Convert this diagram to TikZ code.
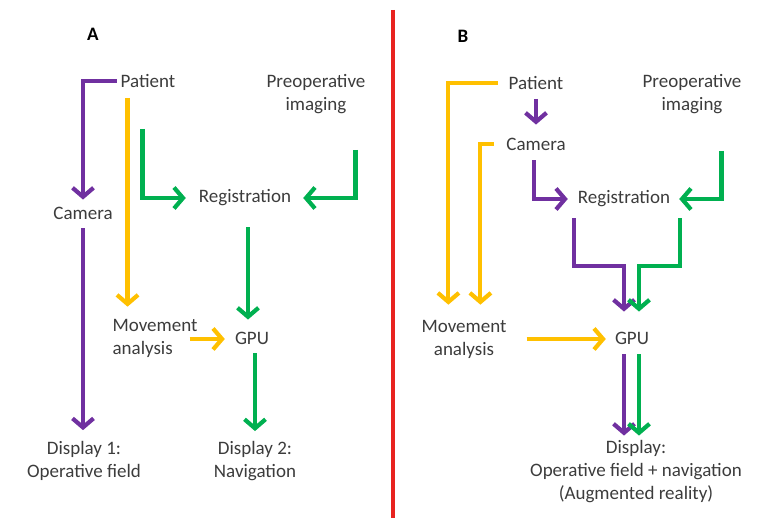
\documentclass[tikz,border=0pt]{standalone}
\usepackage{fontspec}
\setmainfont{Carlito}
\usetikzlibrary{arrows.meta}
\definecolor{cPurple}{HTML}{7030A0}
\definecolor{cYellow}{HTML}{FFC000}
\definecolor{cGreen}{HTML}{00B050}
\definecolor{cRed}{HTML}{E8231F}
\definecolor{cText}{HTML}{3C3C3C}
\begin{document}
\begin{tikzpicture}[x=1pt,y=-1pt,
	lbl/.style={text=cText,font=\fontsize{19}{23}\selectfont,inner sep=1pt,align=center},
	ttl/.style={text=black,font=\fontsize{19}{23}\selectfont\bfseries,inner sep=1pt},
	flow/.style={line width=4.2pt,-{Straight Barb[length=9pt,width=21pt]}},
	purp/.style={flow,draw=cPurple},
	yel/.style={flow,draw=cYellow},
	grn/.style={flow,draw=cGreen}]
	\useasboundingbox (0,0) rectangle (764,518);
	
	% divider
	\draw[cRed,line width=3.8pt] (393,10)--(393,518);
	
	% panel A
	\node[ttl] (tA) at (93,34) {A};
	\node[lbl] (patA) at (148,81) {Patient};
	\node[lbl] (preA) at (316,94) {Preoperative\\imaging};
	\node[lbl] (camA) at (83,213) {Camera};
	\node[lbl] (regA) at (245,198) {Registration};
	\node[lbl,align=left] (movA) at (155,338) {Movement\\analysis};
	\node[lbl] (gpuA) at (252,338) {GPU};
	\node[lbl] (d1A) at (84,461) {Display 1:\\Operative field};
	\node[lbl] (d2A) at (255,461) {Display 2:\\Navigation};
	
	\draw[purp,shorten <=3pt,shorten >=6pt] (patA.west) -| (camA.north);
	\draw[purp,shorten <=8pt,shorten >=10pt] (camA.south) -- (camA.south |- d1A.north);
	\draw[yel,shorten <=9pt,shorten >=11pt] ([xshift=8pt]patA.south west) -- ([xshift=8pt]patA.south west |- movA.north);
	\draw[yel,shorten >=9pt] ([xshift=-9pt,yshift=-1pt]movA.east) -- ([yshift=-1pt]movA.east -| gpuA.west);
	\draw[grn,shorten <=40pt,shorten >=12pt] ([xshift=23pt]patA.south west) |- (regA.west);
	\draw[grn,shorten <=35pt,shorten >=11pt] ([xshift=-11pt]preA.south east) |- (regA.east);
	\draw[grn,shorten <=20pt,shorten >=11pt] ([xshift=3pt]regA.south) -- ([xshift=3pt]regA.south |- gpuA.north);
	\draw[grn,shorten <=8pt,shorten >=9pt] (gpuA.south -| d2A.north) -- (d2A.north);
	
	% panel B
	\node[ttl] (tB) at (463,36) {B};
	\node[lbl] (patB) at (536,83) {Patient};
	\node[lbl] (preB) at (692,94) {Preoperative\\imaging};
	\node[lbl] (camB) at (536,144) {Camera};
	\node[lbl] (regB) at (624,199) {Registration};
	\node[lbl] (movB) at (464,339) {Movement\\analysis};
	\node[lbl] (gpuB) at (632,338) {GPU};
	\node[lbl] (dispB) at (636,472) {Display:\\Operative field + navigation\\(Augmented reality)};
	
	\draw[yel,shorten <=10pt,shorten >=14pt] (patB.west) -| ([xshift=28pt]movB.north west);
	\draw[yel,shorten <=11pt,shorten >=14pt] (camB.west) -| ([xshift=60pt]movB.north west);
	\draw[purp,shorten <=8pt,shorten >=12pt] (patB.south) -- (camB.north);
	\draw[purp,shorten <=9pt,shorten >=9pt] ([xshift=-2pt]camB.south) |- (regB.west);
	\draw[grn,shorten <=36pt,shorten >=8pt] ([xshift=-21pt]preB.south east) |- (regB.east);
	\draw[purp,shorten <=10pt,shorten >=19pt] ([xshift=-50pt]regB.south) -- ++(0,58) -| ([xshift=-8pt]gpuB.north);
	\draw[grn,shorten <=10pt,shorten >=19pt] ([xshift=56pt]regB.south) -- ++(0,58) -| ([xshift=7pt]gpuB.north);
	\draw[yel,shorten <=19pt,shorten >=8pt] (movB.east) -- (movB.east -| gpuB.west);
	\draw[purp,shorten <=9pt,shorten >=4pt] ([xshift=-8pt]gpuB.south) -- ([xshift=-8pt]gpuB.south |- dispB.north);
	\draw[grn,shorten <=9pt,shorten >=4pt] ([xshift=7pt]gpuB.south) -- ([xshift=7pt]gpuB.south |- dispB.north);
\end{tikzpicture}
\end{document}
